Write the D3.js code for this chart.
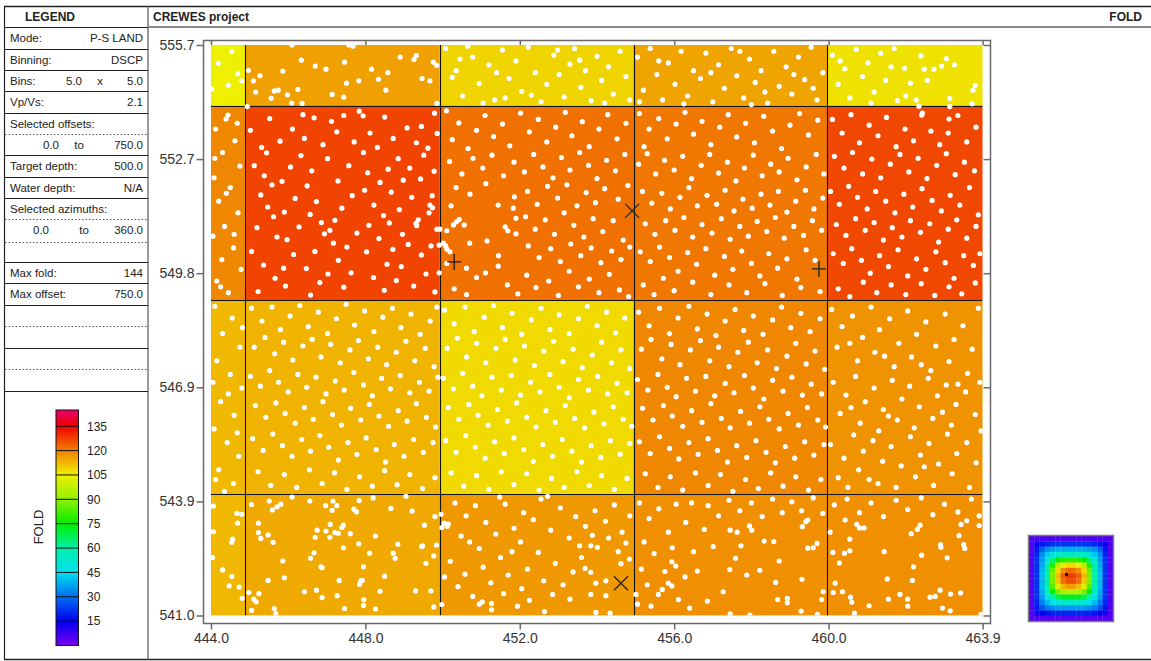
<!DOCTYPE html>
<html><head><meta charset="utf-8">
<script src="https://cdn.jsdelivr.net/npm/d3@7"></script>
<style>
body{margin:0;background:#fff;}
svg{display:block;font-family:"Liberation Sans",Arial,sans-serif;}
</style></head><body>
<svg id="chart" width="1151" height="661"></svg>
<script>
// ---- fold map: bin edges and fold per bin (rows top to bottom) ----
const xBinEdges = [444.0, 444.89, 449.92, 454.95, 459.97, 463.99];
const yBinEdges = [555.71, 554.15, 549.16, 544.18, 541.06];
const foldRow0 = [104.8, 115.7, 108.8, 115.2, 106.9];
const foldRow1 = [119.0, 127.0, 121.9, 121.0, 126.6];
const foldRow2 = [112.5, 113.0, 108.0, 119.0, 117.5];
const foldRow3 = [112.5, 114.5, 116.8, 118.0, 118.0];

// ---- axis ticks ----
const xTickValues = [444.0, 448.0, 452.0, 456.0, 460.0, 463.99];
const xTickLabels = ["444.0", "448.0", "452.0", "456.0", "460.0", "463.9"];
const yTickValues = [541.06, 543.99, 546.92, 549.85, 552.78, 555.71];
const yTickLabels = ["541.0", "543.9", "546.9", "549.8", "552.7", "555.7"];

// ---- source / receiver symbols ----
const plusMarks = [[450.30, 550.14], [459.75, 549.96]];
const crossMarks = [[454.91, 551.45], [454.62, 541.89]];

// ---- CMP midpoints, flat x,y lists per bin row ----
const midpointsRow0 = [
  444.54,555.54, 444.19,555.24, 444.69,554.97, 444.80,554.79, 444.45,554.68, 444.02,554.58,
  446.10,555.71, 447.57,555.71, 447.68,555.68, 446.34,555.32, 444.97,555.06, 445.10,554.79, 445.27,554.92,
  445.16,554.50, 445.56,554.34, 445.64,554.53, 445.74,554.55, 445.86,555.04, 445.98,554.43, 446.09,554.22,
  446.25,554.57, 446.36,554.21, 446.70,555.17, 446.98,555.09, 447.14,554.44, 447.44,554.37, 447.46,555.27,
  447.51,554.73, 447.83,554.79, 448.16,555.09, 448.34,554.83, 448.53,554.55, 448.58,555.00, 448.90,555.40,
  449.26,555.34, 449.32,555.44, 449.47,554.85, 449.67,554.79, 449.76,555.27, 449.85,555.19, 449.85,554.21,
  450.08,555.62, 450.35,555.05, 450.52,554.40, 450.78,555.40, 450.95,554.72, 451.20,555.20, 451.35,554.30,
  451.55,555.58, 451.72,554.85, 451.90,555.30, 452.05,554.52, 452.22,555.65, 452.40,555.00, 452.55,554.25,
  452.70,554.70, 452.88,555.45, 453.02,554.95, 453.15,554.38, 453.30,555.22, 453.42,555.62, 453.58,554.62,
  453.70,555.05, 453.85,554.28, 454.00,555.42, 454.12,554.80, 454.30,555.15, 454.42,554.45, 454.60,555.55,
  454.75,554.90, 454.85,554.30, 450.25,554.88, 450.65,555.68, 451.05,554.22, 451.62,554.35, 452.30,554.42,
  452.98,555.58, 453.55,555.32, 454.20,554.22, 450.45,555.35, 451.40,555.00,
  455.05,555.40, 455.20,554.55, 455.38,555.62, 455.55,554.95, 455.70,554.30, 455.85,555.25, 456.02,554.70,
  456.18,555.55, 456.35,554.40, 456.50,555.05, 456.68,554.85, 456.82,555.50, 457.00,554.25, 457.15,555.20,
  457.30,554.60, 457.48,555.62, 457.62,554.92, 457.80,554.35, 457.95,555.35, 458.10,554.75, 458.25,555.05,
  458.42,554.22, 458.58,555.55, 458.72,554.65, 458.90,555.15, 459.05,554.45, 459.22,555.40, 459.38,554.82,
  459.55,555.65, 459.70,554.30, 459.85,555.00, 455.60,555.30, 456.25,554.20, 456.95,555.00, 457.70,555.55,
  458.35,554.50, 459.10,554.95, 459.60,554.60, 455.10,554.25, 458.00,554.18,
  462.39,555.43, 461.97,555.11, 462.48,555.09, 462.73,555.09, 462.93,555.17, 463.05,555.36, 463.26,555.20,
  462.12,554.73, 462.56,554.80, 463.80,554.67, 463.74,554.55, 462.00,554.40, 462.27,554.30, 463.14,554.34,
  463.72,554.20, 460.10,555.45, 460.25,554.70, 460.42,555.10, 460.55,554.35, 460.72,555.60, 460.88,554.90,
  461.02,555.25, 461.18,554.50, 461.35,555.50, 461.48,554.80, 461.62,555.15, 461.78,554.28, 460.30,555.30,
  461.10,554.22, 461.70,555.62
];
const midpointsRow1 = [
  444.44,553.91, 444.39,553.81, 444.12,553.55, 444.62,553.25, 444.30,552.95, 444.75,552.60, 444.08,552.30,
  444.50,552.05, 444.20,551.70, 444.70,551.40, 444.35,551.05, 444.05,550.80, 444.58,550.50, 444.28,550.20,
  444.78,549.95, 444.15,549.65, 444.45,549.35, 444.68,553.70, 444.10,552.80, 444.40,551.90, 444.60,550.85,
  444.25,549.50,
  444.94,554.13, 446.67,553.84, 447.44,553.90, 447.84,554.01, 447.94,553.89, 449.79,553.96,
  449.20,551.80, 449.73,551.84, 449.67,551.60, 449.74,551.53, 449.65,551.40, 449.37,551.22, 449.31,551.13,
  449.33,551.07, 449.11,550.59, 449.45,550.32, 448.98,552.24,
  445.02,553.52, 445.31,553.08, 445.12,552.61, 445.44,552.94, 445.38,552.35, 445.58,552.12, 445.29,551.86,
  445.47,551.55, 445.62,551.30, 445.19,551.02, 445.71,550.78, 445.05,550.41, 445.36,550.06, 445.66,549.72,
  445.22,549.38, 445.93,549.52, 445.88,549.98, 446.14,550.33, 445.97,550.71, 446.28,551.04, 445.90,551.42,
  446.18,551.77, 445.84,552.21, 446.06,552.58, 446.33,552.87, 445.79,553.24, 446.11,553.55, 446.42,553.31,
  446.61,552.48, 446.49,552.09, 446.73,551.69, 446.57,551.36, 446.86,551.15, 446.94,550.86, 447.08,550.95,
  447.21,551.21, 447.17,550.62, 446.69,550.41, 446.47,549.97, 446.82,549.61, 446.58,549.29, 447.03,549.83,
  447.30,550.18, 447.44,549.49, 447.63,549.86, 447.52,550.52, 447.78,550.88, 447.39,551.52, 447.66,551.84,
  447.29,552.22, 447.57,552.61, 447.02,552.79, 446.90,553.15, 447.26,553.48, 447.71,553.22, 447.95,552.95,
  448.12,553.45, 448.31,553.08, 448.06,552.43, 448.38,552.18, 447.98,551.98, 448.22,551.60, 448.47,551.33,
  448.09,551.08, 448.35,550.74, 448.03,550.40, 448.56,550.08, 448.21,549.74, 448.49,549.41, 448.80,549.66,
  448.93,550.02, 448.71,550.46, 448.96,550.85, 448.62,551.14, 448.88,551.48, 448.67,551.93, 448.59,552.52,
  448.85,552.79, 448.72,553.31, 449.08,553.58, 449.32,553.20, 449.51,552.88, 449.15,552.55, 449.43,552.27,
  449.78,552.47, 449.62,553.06, 449.86,553.44, 449.25,549.52, 449.57,549.83, 449.80,549.37, 449.70,550.55,
  449.85,550.98, 445.52,553.82, 446.38,553.92, 447.12,553.75, 448.50,553.86, 449.45,553.62,
  450.22,551.58, 451.44,551.60, 451.83,551.52, 451.86,551.81, 451.90,551.26, 450.43,551.23, 450.36,551.17,
  450.28,551.09, 450.56,551.09, 449.93,550.98, 450.11,550.94, 451.62,551.04, 451.69,550.94, 451.90,550.86,
  450.02,550.62, 450.08,550.55, 450.11,550.47, 449.91,550.57, 450.19,550.40, 451.15,550.68, 450.11,550.10,
  449.91,549.86, 450.88,549.74, 451.11,549.86, 451.44,550.03,
  450.10,554.02, 450.42,553.71, 450.25,553.28, 450.66,553.05, 450.88,553.52, 451.10,553.90, 451.32,553.36,
  451.55,553.68, 451.74,553.12, 452.02,553.96, 452.25,553.48, 452.48,553.80, 452.70,553.22, 452.93,553.60,
  453.18,553.98, 453.35,553.38, 453.62,553.74, 453.80,553.10, 454.05,553.55, 454.28,553.92, 454.52,553.30,
  454.75,553.70, 450.18,552.72, 450.50,552.40, 450.79,552.80, 451.04,552.55, 451.28,552.88, 451.58,552.35,
  451.85,552.70, 452.12,552.45, 452.36,552.90, 452.60,552.58, 452.86,552.30, 453.08,552.82, 453.30,552.50,
  453.55,552.95, 453.78,552.62, 454.00,552.28, 454.25,552.75, 454.48,552.48, 454.72,552.90, 450.35,552.05,
  450.71,551.88, 451.12,552.15, 452.20,551.95, 452.45,551.62, 452.72,552.08, 452.98,551.78, 453.22,552.12,
  453.48,551.58, 453.72,551.92, 453.96,551.66, 454.20,552.02, 454.55,551.75, 454.80,552.10, 452.15,551.30,
  452.40,550.98, 452.66,551.22, 452.90,550.85, 453.15,551.40, 453.40,551.08, 453.66,550.78, 453.90,551.25,
  454.15,550.92, 454.42,551.20, 454.68,550.70, 452.22,550.55, 452.50,550.25, 452.80,550.48, 453.05,550.15,
  453.32,550.60, 453.58,550.30, 453.85,550.50, 454.10,550.12, 454.38,550.42, 454.62,550.20, 454.85,550.52,
  450.30,549.45, 450.62,549.30, 451.68,549.55, 451.95,549.32, 452.18,549.80, 452.42,549.48, 452.75,549.65,
  453.00,549.28, 453.28,549.90, 453.52,549.50, 453.80,549.70, 454.05,549.35, 454.32,549.82, 454.58,549.42,
  454.82,549.25, 450.70,550.62, 451.45,550.30, 450.62,549.98,
  455.10,553.95, 455.35,553.55, 455.22,553.10, 455.60,553.82, 455.82,553.30, 456.05,553.68, 456.28,553.98,
  456.50,553.42, 456.72,553.75, 456.95,553.15, 457.18,553.60, 457.40,553.92, 457.62,553.35, 457.85,553.70,
  458.08,553.20, 458.32,553.88, 458.55,553.50, 458.78,553.05, 459.00,553.65, 459.25,553.95, 459.48,553.40,
  459.72,553.78, 455.08,552.65, 455.30,552.92, 455.52,552.40, 455.75,552.75, 456.00,552.50, 456.22,552.85,
  456.45,552.28, 456.70,552.62, 456.92,552.90, 457.15,552.42, 457.38,552.70, 457.60,552.22, 457.82,552.55,
  458.05,552.88, 458.28,552.35, 458.50,552.65, 458.72,552.45, 458.95,552.80, 459.18,552.25, 459.42,552.58,
  459.68,552.90, 459.88,552.40, 455.18,551.95, 455.42,551.65, 455.68,551.90, 455.90,551.50, 456.15,551.80,
  456.38,552.05, 456.60,551.58, 456.85,551.85, 457.10,551.62, 457.32,551.98, 457.55,551.45, 457.78,551.75,
  458.02,551.52, 458.25,551.88, 458.48,551.60, 458.70,551.95, 458.92,551.42, 459.15,551.70, 459.40,551.98,
  459.62,551.50, 459.85,551.78, 455.25,551.12, 455.50,550.85, 455.78,551.20, 456.02,550.95, 456.25,551.28,
  456.48,550.78, 456.72,551.10, 456.98,550.88, 457.22,551.25, 457.45,550.72, 457.70,551.05, 457.92,550.80,
  458.15,551.18, 458.40,550.92, 458.62,551.28, 458.85,550.75, 459.10,551.05, 459.35,550.82, 459.58,551.20,
  459.82,550.95, 455.12,550.40, 455.38,550.15, 455.62,550.52, 455.88,550.25, 456.10,549.90, 456.35,550.38,
  456.58,550.08, 456.82,550.48, 457.05,549.80, 457.30,550.28, 457.52,549.95, 457.75,550.42, 458.00,550.10,
  458.22,549.78, 458.45,550.35, 458.68,549.98, 458.92,550.22, 459.18,549.70, 459.42,550.45, 459.65,550.18,
  455.20,549.55, 455.48,549.30, 455.72,549.72, 456.00,549.40, 456.48,549.62, 456.95,549.30, 457.42,549.55,
  457.88,549.35, 458.35,549.58, 458.80,549.28, 459.28,549.48, 459.78,549.38,
  462.34,554.14, 463.14,554.13, 462.43,553.96, 462.41,553.91, 463.12,553.81,
  460.10,553.80, 460.35,553.45, 460.58,553.92, 460.80,553.20, 461.05,553.65, 461.28,553.38, 461.50,553.85,
  461.75,553.10, 461.98,553.55, 462.20,553.25, 462.65,553.50, 462.88,553.15, 463.10,553.45, 463.35,553.90,
  463.58,553.22, 463.82,553.60, 460.15,552.85, 460.40,552.55, 460.62,552.95, 460.88,552.40, 461.12,552.78,
  461.35,552.30, 461.60,552.65, 461.85,552.90, 462.08,552.45, 462.32,552.80, 462.55,552.28, 462.80,552.62,
  463.05,552.92, 463.28,552.38, 463.52,552.70, 463.78,552.48, 460.05,551.95, 460.28,551.62, 460.52,552.08,
  460.75,551.80, 461.00,551.50, 461.22,551.95, 461.48,551.70, 461.72,551.40, 461.95,551.88, 462.18,551.55,
  462.42,552.02, 462.68,551.72, 462.92,551.45, 463.15,551.85, 463.40,551.60, 463.65,552.05, 463.88,551.35,
  460.20,551.10, 460.45,550.82, 460.70,551.25, 460.95,550.95, 461.18,551.15, 461.42,550.70, 461.65,551.02,
  461.90,550.78, 462.12,551.20, 462.38,550.90, 462.62,551.12, 462.85,550.65, 463.10,550.98, 463.32,551.22,
  463.58,550.75, 463.82,551.05, 460.12,550.35, 460.38,550.10, 460.60,550.48, 460.85,550.18, 461.08,549.85,
  461.32,550.30, 461.55,550.02, 461.80,550.45, 462.05,549.78, 462.28,550.22, 462.52,549.95, 462.78,550.40,
  463.02,550.12, 463.25,549.72, 463.50,550.30, 463.75,550.05, 463.92,550.35, 460.25,549.45, 460.55,549.25,
  460.90,549.62, 461.25,549.35, 461.62,549.55, 462.00,549.30, 462.40,549.58, 462.75,549.28, 463.12,549.50,
  463.45,549.32, 463.80,549.60
];
const midpointsRow2 = [
  444.10,549.00, 444.55,548.70, 444.30,548.30, 444.75,547.95, 444.15,547.60, 444.50,547.25, 444.80,546.90,
  444.25,546.55, 444.60,546.20, 444.08,545.85, 444.42,545.50, 444.72,545.15, 444.20,544.80, 444.58,544.45,
  444.35,544.25, 444.82,548.45, 444.05,547.05, 444.68,545.75, 444.12,544.55, 444.45,546.75,
  445.05,548.95, 445.32,548.62, 445.58,548.98, 445.80,548.40, 446.05,548.75, 446.30,549.02, 446.52,548.48,
  446.78,548.85, 447.02,548.30, 447.25,548.68, 447.50,549.05, 447.72,548.52, 447.98,548.88, 448.22,548.35,
  448.45,548.72, 448.70,548.95, 448.92,548.45, 449.18,548.80, 449.42,548.28, 449.68,548.62, 449.85,548.98,
  445.12,547.95, 445.40,548.20, 445.65,547.78, 445.88,548.08, 446.12,547.62, 446.38,547.98, 446.62,548.15,
  446.85,547.70, 447.10,548.02, 447.35,547.55, 447.60,547.88, 447.82,548.12, 448.08,547.65, 448.32,547.95,
  448.55,547.50, 448.80,547.82, 449.05,548.10, 449.28,547.60, 449.55,547.92, 449.78,547.45, 445.02,547.20,
  445.28,546.95, 445.52,547.35, 445.75,547.05, 446.00,546.80, 446.25,547.25, 446.48,546.92, 446.72,547.18,
  446.98,546.75, 447.22,547.08, 447.45,546.85, 447.70,547.30, 447.95,546.98, 448.18,546.70, 448.42,547.15,
  448.65,546.88, 448.90,547.22, 449.15,546.78, 449.40,547.05, 449.65,546.82, 449.88,547.18, 445.15,546.45,
  445.42,546.15, 445.68,546.52, 445.92,546.25, 446.18,546.00, 446.42,546.40, 446.65,546.10, 446.90,546.55,
  447.15,546.22, 447.38,545.95, 447.62,546.38, 447.88,546.08, 448.10,546.48, 448.35,546.18, 448.60,545.92,
  448.85,546.32, 449.08,546.05, 449.32,546.50, 449.58,546.15, 449.82,545.90, 445.08,545.60, 445.35,545.30,
  445.60,545.72, 445.85,545.42, 446.10,545.15, 446.35,545.58, 446.58,545.28, 446.82,545.68, 447.05,545.38,
  447.30,545.05, 447.55,545.50, 447.78,545.20, 448.02,545.62, 448.28,545.32, 448.52,545.00, 448.75,545.45,
  449.00,545.15, 449.25,545.58, 449.50,545.25, 449.75,545.50, 445.22,544.75, 445.55,544.40, 445.90,544.68,
  446.22,544.35, 446.55,544.80, 446.88,544.45, 447.20,544.72, 447.52,544.30, 447.85,544.62, 448.18,544.38,
  448.50,544.78, 448.82,544.42, 449.15,544.68, 449.48,544.32, 449.80,544.60,
  450.05,548.90, 450.30,548.55, 450.58,548.98, 450.82,548.35, 451.08,548.72, 451.32,549.02, 451.55,548.45,
  451.80,548.82, 452.05,548.28, 452.30,548.65, 452.55,548.95, 452.78,548.40, 453.02,548.78, 453.28,548.30,
  453.52,548.68, 453.75,549.00, 454.00,548.50, 454.25,548.85, 454.48,548.32, 454.72,548.70, 450.12,547.92,
  450.38,548.18, 450.62,547.70, 450.88,548.05, 451.12,547.55, 451.38,547.92, 451.62,548.15, 451.88,547.62,
  452.12,547.98, 452.38,547.48, 452.62,547.85, 452.88,548.10, 453.12,547.58, 453.38,547.90, 453.62,547.42,
  453.88,547.75, 454.12,548.08, 454.38,547.55, 454.62,547.88, 454.85,547.40, 450.02,547.15, 450.28,546.88,
  450.52,547.28, 450.78,546.95, 451.02,546.70, 451.28,547.18, 451.52,546.85, 451.78,547.22, 452.02,546.72,
  452.28,547.05, 452.52,546.80, 452.78,547.25, 453.02,546.92, 453.28,546.65, 453.52,547.12, 453.78,546.85,
  454.02,547.20, 454.28,546.75, 454.52,547.02, 454.78,546.78, 450.15,546.40, 450.42,546.10, 450.68,546.48,
  450.92,546.20, 451.18,545.95, 451.42,546.35, 451.68,546.05, 451.92,546.52, 452.18,546.15, 452.42,545.90,
  452.68,546.32, 452.92,546.02, 453.18,546.45, 453.42,546.12, 453.68,545.88, 453.92,546.28, 454.18,545.98,
  454.42,546.42, 454.68,546.10, 454.90,545.92, 450.08,545.55, 450.35,545.25, 450.60,545.68, 450.85,545.38,
  451.10,545.10, 451.35,545.52, 451.60,545.22, 451.85,545.62, 452.10,545.32, 452.35,545.02, 452.60,545.45,
  452.85,545.15, 453.10,545.58, 453.35,545.28, 453.60,545.00, 453.85,545.42, 454.10,545.12, 454.35,545.55,
  454.60,545.20, 454.85,545.48, 450.22,544.72, 450.55,544.38, 450.88,544.65, 451.20,544.30, 451.52,544.75,
  451.85,544.42, 452.18,544.70, 452.50,544.28, 452.82,544.58, 453.15,544.35, 453.48,544.75, 453.80,544.40,
  454.12,544.65, 454.45,544.30, 454.78,544.58,
  455.08,548.85, 455.35,548.50, 455.62,548.95, 455.88,548.30, 456.10,548.70, 456.38,549.00, 456.60,548.42,
  456.85,548.80, 457.08,548.25, 457.32,548.62, 457.58,548.92, 457.80,548.38, 458.05,548.75, 458.30,548.28,
  458.55,548.65, 458.78,548.98, 459.02,548.45, 459.28,548.82, 459.52,548.35, 459.78,548.68, 455.15,547.90,
  455.40,548.15, 455.68,547.65, 455.92,548.02, 456.15,547.50, 456.42,547.88, 456.68,548.12, 456.92,547.60,
  457.15,547.95, 457.42,547.45, 457.65,547.82, 457.92,548.08, 458.15,547.55, 458.42,547.88, 458.65,547.40,
  458.92,547.72, 459.15,548.05, 459.42,547.52, 459.65,547.85, 459.90,547.38, 455.05,547.12, 455.32,546.85,
  455.58,547.25, 455.82,546.92, 456.05,546.68, 456.32,547.15, 456.55,546.82, 456.82,547.20, 457.05,546.70,
  457.32,547.02, 457.55,546.78, 457.82,547.22, 458.05,546.90, 458.32,546.62, 458.55,547.10, 458.82,546.82,
  459.05,547.18, 459.32,546.72, 459.55,547.00, 459.82,546.75, 455.18,546.38, 455.45,546.08, 455.72,546.45,
  455.95,546.18, 456.22,545.92, 456.45,546.32, 456.72,546.02, 456.95,546.50, 457.22,546.12, 457.45,545.88,
  457.72,546.30, 457.95,546.00, 458.22,546.42, 458.45,546.10, 458.72,545.85, 458.95,546.25, 459.22,545.95,
  459.45,546.40, 459.72,546.08, 459.92,545.90, 455.10,545.52, 455.38,545.22, 455.62,545.65, 455.88,545.35,
  456.12,545.08, 456.38,545.50, 456.62,545.20, 456.88,545.60, 457.12,545.30, 457.38,545.00, 457.62,545.42,
  457.88,545.12, 458.12,545.55, 458.38,545.25, 458.62,544.98, 458.88,545.40, 459.12,545.10, 459.38,545.52,
  459.62,545.18, 459.88,545.45, 455.25,544.70, 455.58,544.35, 455.90,544.62, 456.22,544.28, 456.55,544.72,
  456.88,544.40, 457.20,544.68, 457.52,544.25, 457.85,544.55, 458.18,544.32, 458.50,544.72, 458.82,544.38,
  459.15,544.62, 459.48,544.28, 459.80,544.55,
  460.08,548.92, 460.35,548.48, 460.22,547.95, 460.62,548.75, 460.88,548.20, 460.75,547.60, 461.10,548.98,
  461.32,548.40, 461.20,547.82, 461.58,548.68, 461.82,548.05, 461.70,547.45, 462.05,548.88, 462.28,548.28,
  462.15,547.70, 462.52,548.60, 462.78,547.98, 462.65,547.35, 463.02,548.80, 463.25,548.15, 463.12,547.58,
  463.48,548.50, 463.72,547.90, 463.88,548.95, 463.60,547.28, 460.12,547.05, 460.45,546.72, 460.30,546.25,
  460.70,547.20, 460.95,546.55, 460.82,546.00, 461.18,546.90, 461.42,546.35, 461.30,545.80, 461.65,547.10,
  461.90,546.62, 461.78,546.08, 462.10,546.95, 462.35,546.42, 462.22,545.88, 462.58,547.15, 462.82,546.70,
  462.70,546.12, 463.05,546.98, 463.30,546.48, 463.18,545.95, 463.55,546.80, 463.80,546.22, 463.92,547.05,
  460.05,545.45, 460.40,545.10, 460.25,544.60, 460.65,545.70, 460.90,545.28, 460.78,544.80, 461.15,545.55,
  461.40,545.02, 461.28,544.45, 461.62,545.40, 461.88,544.90, 461.75,544.35, 462.12,545.65, 462.38,545.18,
  462.25,544.62, 462.60,545.48, 462.85,544.95, 462.72,544.40, 463.08,545.72, 463.32,545.22, 463.20,544.70,
  463.58,545.50, 463.82,544.98, 463.65,544.35, 463.95,545.80, 460.55,548.05, 461.45,547.72, 462.40,547.50,
  463.35,547.00, 460.58,546.40, 461.55,546.18, 462.95,546.28, 460.50,544.35, 461.05,544.55, 462.48,544.88
];
const midpointsRow3 = [
  444.06,543.87, 444.67,543.68, 444.80,543.66, 444.69,543.43, 444.06,543.21, 444.56,543.02, 444.54,542.94,
  444.04,542.55, 444.30,542.23, 444.54,542.06, 444.47,541.82, 444.73,541.79, 444.81,541.50,
  445.05,543.91, 445.51,544.00, 445.59,543.77, 445.71,543.85, 445.81,543.92, 445.23,543.43, 445.23,543.19,
  445.29,543.04, 445.48,543.13, 445.61,542.94, 445.86,542.46, 445.90,542.03, 445.48,541.96, 444.98,541.65,
  445.11,541.48, 445.17,541.41, 445.24,541.62, 445.05,541.19, 445.64,541.24, 445.68,541.11, 446.42,541.67,
  446.73,541.71, 446.88,541.52, 447.27,541.57, 447.46,541.24, 447.32,541.96, 446.85,542.31, 446.88,542.29,
  446.58,542.53, 446.67,542.67, 446.70,543.07, 446.75,543.25, 446.98,543.23, 447.09,543.40, 447.08,543.07,
  447.21,543.19, 447.30,543.17, 447.39,543.32, 447.43,543.38, 447.61,543.16, 447.43,542.80, 447.83,542.90,
  447.95,542.31, 447.88,541.95, 447.92,541.96, 447.85,541.86, 447.96,541.47, 447.95,541.32, 448.11,542.66,
  448.26,543.10, 448.38,541.68, 448.26,541.23, 448.50,542.07, 448.66,543.81, 448.72,542.66, 448.77,542.53,
  448.84,542.89, 449.21,543.74, 449.30,541.69, 449.46,542.83, 449.48,542.85, 449.53,543.38, 449.57,542.40,
  449.70,541.69, 449.77,542.59, 449.80,543.60, 449.84,542.87, 449.77,541.28, 446.56,544.00, 446.97,543.88,
  447.14,543.76, 447.16,544.00, 447.26,543.88, 447.70,543.79, 447.77,543.72, 447.84,544.01,
  446.10,544.10, 448.20,544.08, 449.05,544.12,
  449.96,543.66, 450.04,543.43, 449.98,543.32, 450.15,543.41, 449.98,541.34,
  453.84,542.85, 454.01,542.81, 454.84,542.51, 454.62,542.39, 453.69,542.27, 453.84,542.17, 453.97,541.89,
  454.23,541.95, 453.84,541.60, 454.23,541.57, 453.97,541.14, 454.34,541.12,
  451.03,541.41, 451.27,541.37, 451.27,541.21, 451.94,541.30, 452.64,541.16,
  450.32,543.95, 450.61,543.62, 450.48,543.10, 450.85,543.88, 451.12,543.45, 450.95,542.78, 451.38,543.15,
  451.62,543.92, 451.50,542.55, 451.85,543.30, 452.10,543.70, 452.02,542.95, 452.35,543.52, 452.55,544.05,
  452.48,542.68, 452.80,543.25, 453.05,543.82, 452.92,542.40, 453.28,543.05, 453.45,543.60, 453.38,542.18,
  450.20,542.45, 450.58,542.12, 450.40,541.80, 450.78,541.55, 451.05,542.30, 451.25,541.90, 451.70,542.10,
  451.58,541.62, 452.20,542.25, 452.05,541.75, 452.62,541.95, 452.85,541.60, 453.12,541.85, 453.30,541.48,
  450.12,543.35, 450.70,542.95, 451.80,542.70, 452.25,541.45, 453.55,542.85, 453.70,543.35, 453.95,543.75,
  454.22,543.48, 454.45,543.90, 454.65,543.20, 454.85,543.62, 454.30,543.05, 454.75,542.92, 453.88,543.12,
  454.55,542.70, 453.60,542.55, 450.95,541.35, 451.48,544.10, 452.72,544.12, 450.05,542.05,
  455.01,541.60, 455.94,542.44, 456.04,542.33, 455.76,542.19, 455.85,541.89, 455.94,541.82, 455.69,541.73,
  455.59,541.60, 456.11,541.47,
  455.10,543.95, 455.35,543.55, 455.22,542.95, 455.60,543.80, 455.48,542.65, 455.85,543.20, 456.05,543.92,
  455.95,542.80, 456.30,543.45, 456.50,542.70, 456.45,543.95, 455.15,542.25, 455.30,541.85, 455.05,541.35,
  455.40,541.30, 456.28,542.05, 456.40,541.25, 456.60,542.20, 456.88,543.88, 457.15,543.62, 457.42,544.02,
  457.70,543.75, 458.00,543.95, 458.28,543.60, 458.55,544.05, 458.80,543.70, 459.05,543.98, 459.30,543.75,
  459.60,544.08, 459.85,543.68,
  456.78,543.27, 457.45,543.25, 457.63,543.20, 457.95,543.36, 458.01,543.25, 457.01,542.83, 457.73,542.85,
  458.33,542.97, 458.58,542.96, 459.32,543.34, 459.41,543.47, 459.46,543.51, 459.46,542.79, 459.60,542.80,
  459.70,542.91, 457.59,542.53, 458.72,542.46, 457.44,542.24, 457.88,542.10, 458.22,542.22, 459.31,541.99,
  458.63,541.91, 457.27,541.67, 456.86,541.43, 458.68,541.47, 458.93,541.50, 458.93,541.39, 459.29,541.17,
  459.82,541.47, 459.86,541.67, 457.45,541.10, 457.96,541.07, 459.71,541.09,
  460.04,543.20, 460.11,542.68, 460.28,542.41, 460.41,542.66, 460.55,542.72, 460.55,543.02, 460.43,543.51,
  460.73,543.40, 460.80,543.31, 460.92,543.31, 460.17,541.89, 460.12,541.65, 460.36,541.67, 460.57,541.53,
  460.60,541.40, 460.67,541.12, 461.05,541.31, 461.44,542.70, 461.52,542.00, 461.55,541.48, 461.85,541.60,
  462.05,541.48, 462.05,541.30, 462.17,541.96, 462.20,542.31, 462.14,543.16, 462.30,543.27, 462.37,543.38,
  462.41,542.61, 463.07,542.54, 462.90,542.88, 462.91,542.81, 463.38,543.11, 463.43,543.40, 463.58,543.49,
  463.50,542.88, 463.53,542.78, 463.90,543.37, 462.63,541.53, 462.76,541.55, 462.89,541.71, 463.16,541.61,
  463.42,541.64, 462.95,541.25, 463.15,541.18, 463.95,541.09,
  460.15,543.90, 460.48,544.05, 460.80,543.70, 461.10,543.95, 461.42,543.60, 461.75,544.02, 462.05,543.78,
  462.40,544.08, 462.70,543.65, 463.00,543.92, 463.35,543.72, 463.70,544.05, 463.90,543.62
];

// ---- legend panel ----
const legendItems = [
  ["Mode:", "P-S LAND"],
  ["Binning:", "DSCP"],
  ["Bins:", "5.0"],
  ["Vp/Vs:", "2.1"],
  ["Selected offsets:", ""],
  ["", "750.0"],
  ["Target depth:", "500.0"],
  ["Water depth:", "N/A"],
  ["Selected azimuths:", ""],
  ["", "360.0"],
  ["", ""],
  ["Max fold:", "144"],
  ["Max offset:", "750.0"]
];
const foldBarTicks = [15, 30, 45, 60, 75, 90, 105, 120, 135];

// ---- overview thumbnail of total fold over the whole survey (rows top to bottom) ----
const overviewFold = [
  [5, 5, 5, 5, 5, 5, 5, 5, 5, 5, 5, 5, 5, 5, 5, 5],
  [5, 14, 18, 20, 22, 22, 22, 22, 22, 22, 22, 22, 20, 18, 14, 5],
  [5, 18, 28, 34, 36, 38, 38, 38, 38, 38, 38, 36, 34, 28, 18, 5],
  [5, 20, 34, 42, 50, 54, 56, 56, 56, 56, 54, 50, 42, 34, 20, 5],
  [5, 22, 36, 50, 64, 74, 78, 80, 80, 78, 74, 64, 50, 36, 22, 5],
  [5, 22, 38, 56, 78, 96, 104, 108, 108, 104, 96, 78, 56, 38, 22, 5],
  [5, 22, 40, 60, 86, 108, 118, 122, 122, 118, 108, 86, 60, 40, 22, 5],
  [5, 22, 40, 60, 88, 112, 124, 128, 128, 124, 112, 88, 60, 40, 22, 5],
  [5, 22, 40, 60, 88, 110, 122, 126, 126, 122, 110, 88, 60, 40, 22, 5],
  [5, 22, 40, 58, 84, 102, 112, 116, 116, 112, 102, 84, 58, 40, 22, 5],
  [5, 22, 38, 54, 74, 88, 94, 96, 96, 94, 88, 74, 54, 38, 22, 5],
  [5, 22, 36, 48, 60, 68, 72, 72, 72, 72, 68, 60, 48, 36, 22, 5],
  [5, 20, 32, 40, 46, 50, 52, 52, 52, 52, 50, 46, 40, 32, 20, 5],
  [5, 18, 26, 32, 34, 36, 36, 36, 36, 36, 36, 34, 32, 26, 18, 5],
  [5, 12, 16, 18, 20, 20, 20, 20, 20, 20, 20, 20, 18, 16, 12, 5],
  [4, 4, 4, 4, 4, 4, 4, 4, 4, 4, 4, 4, 4, 4, 4, 4]
];

// ---- colour scale for fold ----
const foldStops = [0, 15, 30, 45, 60, 75, 90, 105, 120, 135, 145];
const foldColours = ["#7800f0", "#0000f0", "#0070f0", "#00e0f0", "#00f0a8", "#00f000",
                     "#90f000", "#f0f000", "#f08000", "#f00000", "#e8006c"];
const foldColour = d3.scaleLinear().domain(foldStops).range(foldColours).clamp(true);

const svg = d3.select("#chart");
const ink = "#222";

// ---------- outer frame and panel dividers ----------
const frame = svg.append("g");
frame.append("line").attr("x1", 4).attr("x2", 1151).attr("y1", 6.5).attr("y2", 6.5).attr("stroke", ink).attr("stroke-width", 1.5);
frame.append("line").attr("x1", 4).attr("x2", 1151).attr("y1", 659.5).attr("y2", 659.5).attr("stroke", ink).attr("stroke-width", 1.5);
frame.append("line").attr("x1", 4.5).attr("x2", 4.5).attr("y1", 6).attr("y2", 660).attr("stroke", ink).attr("stroke-width", 1.2);
frame.append("line").attr("x1", 148).attr("x2", 148).attr("y1", 6).attr("y2", 660).attr("stroke", "#555").attr("stroke-width", 1.2);
frame.append("line").attr("x1", 4).attr("x2", 148).attr("y1", 27.5).attr("y2", 27.5).attr("stroke", ink).attr("stroke-width", 1);
frame.append("line").attr("x1", 148).attr("x2", 1151).attr("y1", 27).attr("y2", 27).attr("stroke", "#8a8a8a").attr("stroke-width", 2);

const headFont = "'Liberation Sans Narrow','Arial Narrow','Liberation Sans',Arial,sans-serif";
frame.append("text").attr("x", 50).attr("y", 21).attr("text-anchor", "middle")
  .style("font-family", headFont).style("font-weight", "bold").style("font-size", "12px").attr("fill", ink).text("LEGEND");
frame.append("text").attr("x", 153).attr("y", 21)
  .style("font-family", headFont).style("font-weight", "bold").style("font-size", "12px").attr("fill", ink).text("CREWES project");
frame.append("text").attr("x", 1142).attr("y", 21).attr("text-anchor", "end")
  .style("font-family", headFont).style("font-weight", "bold").style("font-size", "12px").attr("fill", ink).text("FOLD");

// ---------- legend table ----------
const rowLines = [
  [48.7, "solid"], [70, "solid"], [91.3, "solid"], [112.7, "solid"], [133.7, "dot"],
  [155, "solid"], [176.7, "solid"], [198, "solid"], [219.3, "dot"], [241.5, "dot"],
  [261.7, "solid"], [283, "solid"], [304.5, "solid"], [326, "dot"], [347.7, "solid"],
  [368.5, "dot"], [390.7, "solid"]
];
const leg = svg.append("g");
rowLines.forEach(([yy, kind]) => {
  leg.append("line").attr("x1", 5).attr("x2", 148).attr("y1", Math.round(yy) + 0.5).attr("y2", Math.round(yy) + 0.5)
    .attr("stroke", kind === "dot" ? "#555" : ink).attr("stroke-width", 1)
    .attr("stroke-dasharray", kind === "dot" ? "1.5,2" : null);
});
const rowTop = [27, 48.7, 70, 91.3, 112.7, 133.7, 155, 176.7, 198, 219.3, 241.5, 261.7, 283];
const legText = (xx, yy, s, anchor) => leg.append("text").attr("x", xx).attr("y", yy)
  .attr("text-anchor", anchor).style("font-size", "11.5px").attr("fill", ink).text(s);
legendItems.forEach(([label, value], i) => {
  const base = rowTop[i] + 15;
  if (label) legText(10, base, label, "start");
  if (value) legText(143, base, value, "end");
});
legText(74, rowTop[2] + 15, "5.0", "middle");
legText(100, rowTop[2] + 15, "x", "middle");
legText(51, rowTop[5] + 15, "0.0", "middle");
legText(79, rowTop[5] + 15, "to", "middle");
legText(41, rowTop[9] + 15, "0.0", "middle");
legText(84, rowTop[9] + 15, "to", "middle");

// ---------- colour bar ----------
const yb = d3.scaleLinear().domain([0, 145]).range([645.5, 410]);
const bar = svg.append("g");
const defs = svg.append("defs");
const grad = defs.append("linearGradient").attr("id", "foldGrad")
  .attr("gradientUnits", "userSpaceOnUse").attr("x1", 0).attr("x2", 0).attr("y1", yb(0)).attr("y2", yb(145));
foldStops.forEach((v, i) => grad.append("stop").attr("offset", v / 145).attr("stop-color", foldColours[i]));
bar.append("rect").attr("x", 56).attr("y", yb(145)).attr("width", 22.5).attr("height", yb(0) - yb(145))
  .attr("fill", "url(#foldGrad)");
foldBarTicks.forEach(v => {
  bar.append("line").attr("x1", 56).attr("x2", 78.5).attr("y1", yb(v)).attr("y2", yb(v)).attr("stroke", "#111").attr("stroke-width", 1);
  bar.append("text").attr("x", 87).attr("y", yb(v)).attr("dy", "0.36em").style("font-size", "12px").attr("fill", ink).text(v);
});
bar.append("rect").attr("x", 56).attr("y", yb(145)).attr("width", 22.5).attr("height", yb(0) - yb(145))
  .attr("fill", "none").attr("stroke", "#111").attr("stroke-width", 1);
bar.append("text").attr("transform", "translate(43,527) rotate(-90)").attr("text-anchor", "middle")
  .style("font-size", "13px").attr("fill", ink).text("FOLD");

// ---------- fold map ----------
const x = d3.scaleLinear().domain([444.0, 463.99]).range([211, 982.6]);
const y = d3.scaleLinear().domain([541.06, 555.71]).range([615.5, 45]);
defs.append("clipPath").attr("id", "mapClip").append("rect")
  .attr("x", x(444.0)).attr("y", y(555.71)).attr("width", x(463.99) - x(444.0)).attr("height", y(541.06) - y(555.71));
const foldRows = [foldRow0, foldRow1, foldRow2, foldRow3];
const map = svg.append("g").attr("clip-path", "url(#mapClip)");
foldRows.forEach((row, i) => {
  row.forEach((f, j) => {
    map.append("rect")
      .attr("x", x(xBinEdges[j])).attr("width", x(xBinEdges[j + 1]) - x(xBinEdges[j]) + 0.3)
      .attr("y", y(yBinEdges[i])).attr("height", y(yBinEdges[i + 1]) - y(yBinEdges[i]) + 0.3)
      .attr("fill", foldColour(f));
  });
});
xBinEdges.slice(1, -1).forEach(e => {
  map.append("line").attr("x1", Math.round(x(e)) + 0.5).attr("x2", Math.round(x(e)) + 0.5)
    .attr("y1", y(yBinEdges[0])).attr("y2", y(yBinEdges[yBinEdges.length - 1]))
    .attr("stroke", "#111").attr("stroke-width", 1.1);
});
yBinEdges.slice(1, -1).forEach(e => {
  map.append("line").attr("y1", Math.round(y(e)) + 0.5).attr("y2", Math.round(y(e)) + 0.5)
    .attr("x1", x(xBinEdges[0])).attr("x2", x(xBinEdges[xBinEdges.length - 1]))
    .attr("stroke", "#111").attr("stroke-width", 1.1);
});
const flat = [...midpointsRow0, ...midpointsRow1, ...midpointsRow2, ...midpointsRow3];
const midpoints = d3.range(0, flat.length, 2).map(k => [flat[k], flat[k + 1]]);
map.selectAll("circle.mp").data(midpoints).join("circle")
  .attr("class", "mp").attr("cx", d => x(d[0])).attr("cy", d => y(d[1]))
  .attr("r", 2.6).attr("fill", "#fff");

// source / receiver symbols
plusMarks.forEach(([px, py]) => {
  const cx = x(px), cy = y(py);
  map.append("path").attr("d", `M${cx - 7},${cy}H${cx + 7}M${cx},${cy - 8}V${cy + 8}`)
    .attr("stroke", "#1a1a1a").attr("stroke-width", 1.3).attr("fill", "none");
});
crossMarks.forEach(([px, py]) => {
  const cx = x(px), cy = y(py);
  map.append("path").attr("d", `M${cx - 7},${cy - 7}L${cx + 7},${cy + 7}M${cx + 7},${cy - 7}L${cx - 7},${cy + 7}`)
    .attr("stroke", "#2a2418").attr("stroke-width", 1.3).attr("fill", "none");
});

// ---------- frame and axes ----------
const axes = svg.append("g");
axes.append("rect").attr("x", 203.5).attr("y", 40.5).attr("width", 787).attr("height", 583)
  .attr("fill", "none").attr("stroke", "#6a6a6a").attr("stroke-width", 1.5);
const styleAxis = g => {
  g.select(".domain").remove();
  g.selectAll(".tick line").attr("stroke", "#6a6a6a").attr("stroke-width", 1.5);
  g.selectAll(".tick text").style("font-size", "14px").style("font-family", "'Liberation Sans',Arial,sans-serif").attr("fill", "#333");
};
axes.append("g").attr("transform", "translate(203.5,0)")
  .call(d3.axisLeft(y).tickValues(yTickValues).tickFormat((d, i) => yTickLabels[i]).tickSize(7).tickPadding(2))
  .call(styleAxis);
axes.append("g").attr("transform", "translate(0,623.5)")
  .call(d3.axisBottom(x).tickValues(xTickValues).tickFormat((d, i) => xTickLabels[i]).tickSize(6).tickPadding(4))
  .call(styleAxis);
axes.append("g").attr("transform", "translate(0,45)")
  .call(d3.axisTop(x).tickValues(xTickValues).tickFormat("").tickSize(5))
  .call(styleAxis);
axes.append("g").attr("transform", "translate(990.5,0)")
  .call(d3.axisLeft(y).tickValues(yTickValues).tickFormat("").tickSize(7))
  .call(styleAxis);

// ---------- overview thumbnail ----------
const ov = svg.append("g");
const ovX = d3.scaleLinear().domain([0, overviewFold[0].length]).range([1029, 1113]);
const ovY = d3.scaleLinear().domain([0, overviewFold.length]).range([536, 621]);
overviewFold.forEach((row, i) => row.forEach((f, j) => {
  ov.append("rect").attr("x", ovX(j)).attr("y", ovY(i))
    .attr("width", ovX(j + 1) - ovX(j) + 0.3).attr("height", ovY(i + 1) - ovY(i) + 0.3)
    .attr("fill", foldColour(f));
}));
ov.append("rect").attr("x", 1065).attr("y", 573).attr("width", 3).attr("height", 3).attr("fill", "#111");
ov.append("rect").attr("x", 1028.5).attr("y", 535.5).attr("width", 85).attr("height", 86)
  .attr("fill", "none").attr("stroke", "#7a7a7a").attr("stroke-width", 1.5);
</script>
</body></html>
